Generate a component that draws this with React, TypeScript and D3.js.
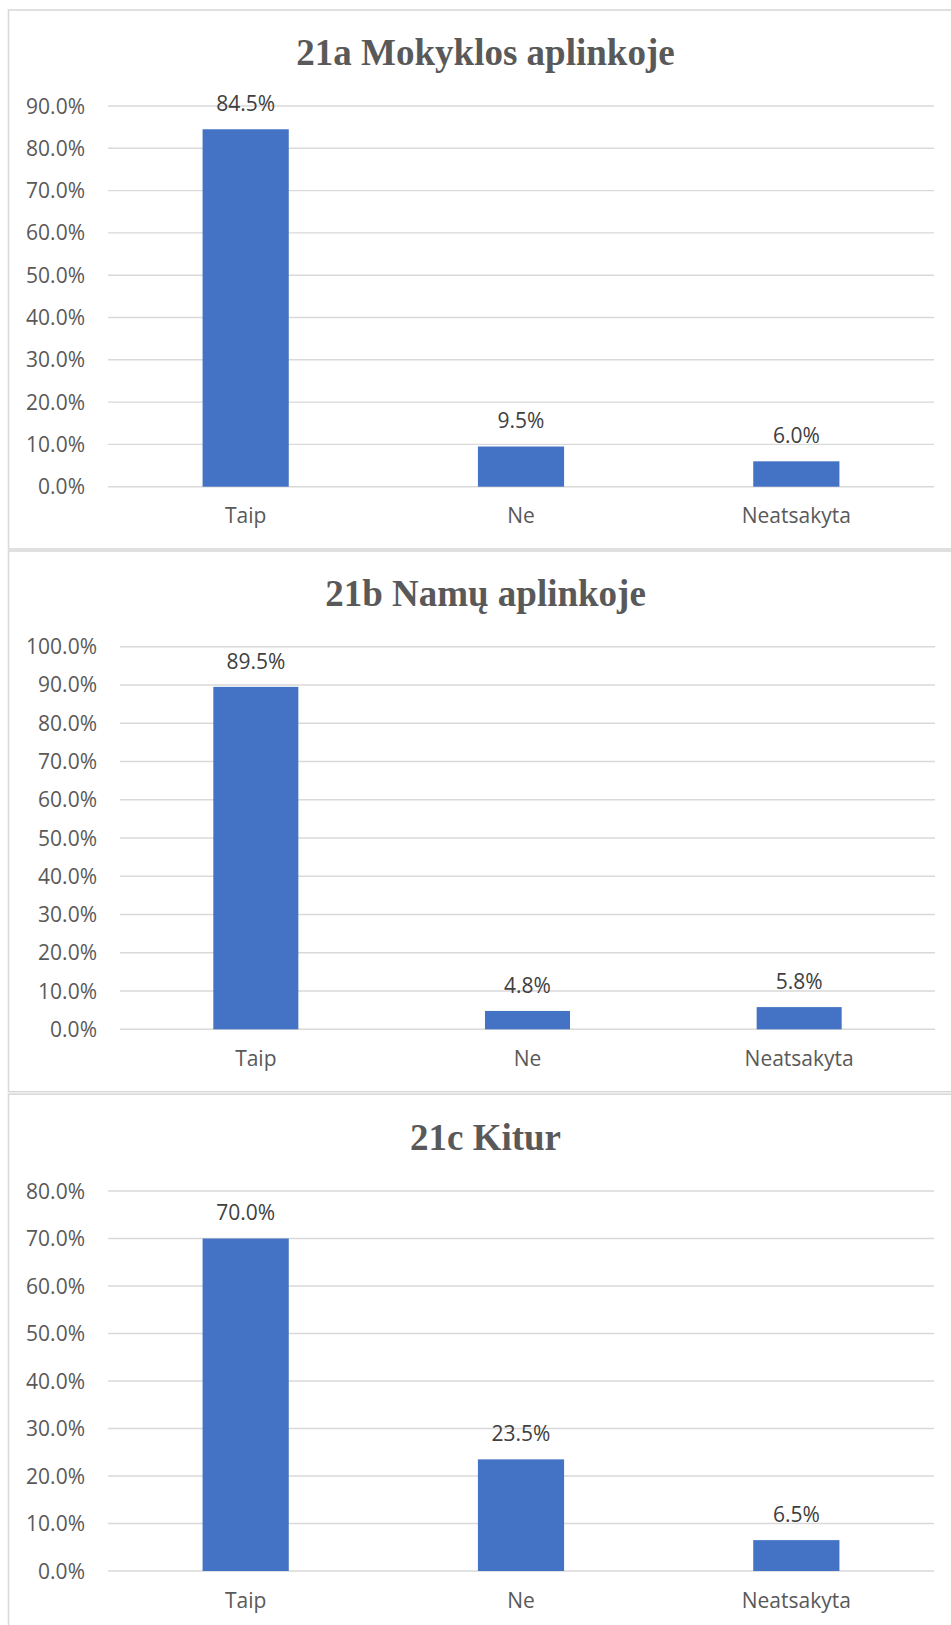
import React from 'react';
import * as d3 from 'd3';

const categories = ['Taip', 'Ne', 'Neatsakyta'];
const schoolValues = [84.5, 9.5, 6.0];
const homeValues = [89.5, 4.8, 5.8];
const elsewhereValues = [70.0, 23.5, 6.5];
const titles = ['21a Mokyklos aplinkoje', '21b Namų aplinkoje', '21c Kitur'];
const axisMax = [90, 100, 80];
const tickStep = 10;

const seriesList = [schoolValues, homeValues, elsewhereValues];

// layout per panel (pixel geometry)
const panels = [
  { boxTop: 10, boxBottom: 549, titleY: 65, left: 108, right: 934, yTop: 106, yZero: 486.7 },
  { boxTop: 551, boxBottom: 1091.7, titleY: 605.7, left: 120, right: 935, yTop: 646.7, yZero: 1029.3 },
  { boxTop: 1094.2, boxBottom: 1660, titleY: 1150, left: 108, right: 934, yTop: 1191, yZero: 1571 },
];

const BAR = '#4472C4';
const GRID = '#D9D9D9';
const FONT = "'Open Sans', sans-serif";

function Panel({ idx }: { idx: number }) {
  const p = panels[idx];
  const values = seriesList[idx];
  const max = axisMax[idx];
  const x = d3
    .scaleBand<string>()
    .domain(categories)
    .range([p.left, p.right])
    .paddingInner(0.687)
    .paddingOuter(0.3435);
  const y = d3.scaleLinear().domain([0, max]).range([p.yZero, p.yTop]);
  const ticks = d3.range(0, max + tickStep / 2, tickStep);
  return (
    <g>
      <rect
        x={8.5}
        y={p.boxTop}
        width={970}
        height={p.boxBottom - p.boxTop}
        fill="#fff"
        stroke={GRID}
        strokeWidth={1.6}
      />
      <text
        x={485.5}
        y={p.titleY}
        textAnchor="middle"
        fontFamily="'Liberation Serif', 'Times New Roman', serif"
        fontWeight="bold"
        fontSize={37}
        fill="#595959"
      >
        {titles[idx]}
      </text>
      {ticks.map((t) => (
        <g key={t}>
          <line x1={p.left} x2={p.right} y1={y(t)} y2={y(t)} stroke={GRID} strokeWidth={1.4} />
          <text
            x={p.left - 23}
            y={y(t) + 7.5}
            textAnchor="end"
            fontFamily={FONT}
            fontSize={21}
            fill="#595959"
          >
            {t.toFixed(1) + '%'}
          </text>
        </g>
      ))}
      {categories.map((c, i) => (
        <g key={c}>
          <rect
            x={x(c)!}
            y={y(values[i])}
            width={x.bandwidth()}
            height={p.yZero - y(values[i])}
            fill={BAR}
          />
          <text
            x={x(c)! + x.bandwidth() / 2}
            y={y(values[i]) - 18.3}
            textAnchor="middle"
            fontFamily={FONT}
            fontSize={21}
            fill="#404040"
          >
            {values[i].toFixed(1) + '%'}
          </text>
          <text
            x={x(c)! + x.bandwidth() / 2}
            y={p.yZero + 36.5}
            textAnchor="middle"
            fontFamily={FONT}
            fontSize={21}
            fill="#595959"
          >
            {c}
          </text>
        </g>
      ))}
    </g>
  );
}

export default function App() {
  return (
    <svg
      width={951}
      height={1625}
      style={{ position: 'absolute', left: 0, top: 0, background: '#fff' }}
    >
      <rect x={0} y={0} width={951} height={1625} fill="#fff" />
      {panels.map((_, i) => (
        <Panel key={i} idx={i} />
      ))}
    </svg>
  );
}
